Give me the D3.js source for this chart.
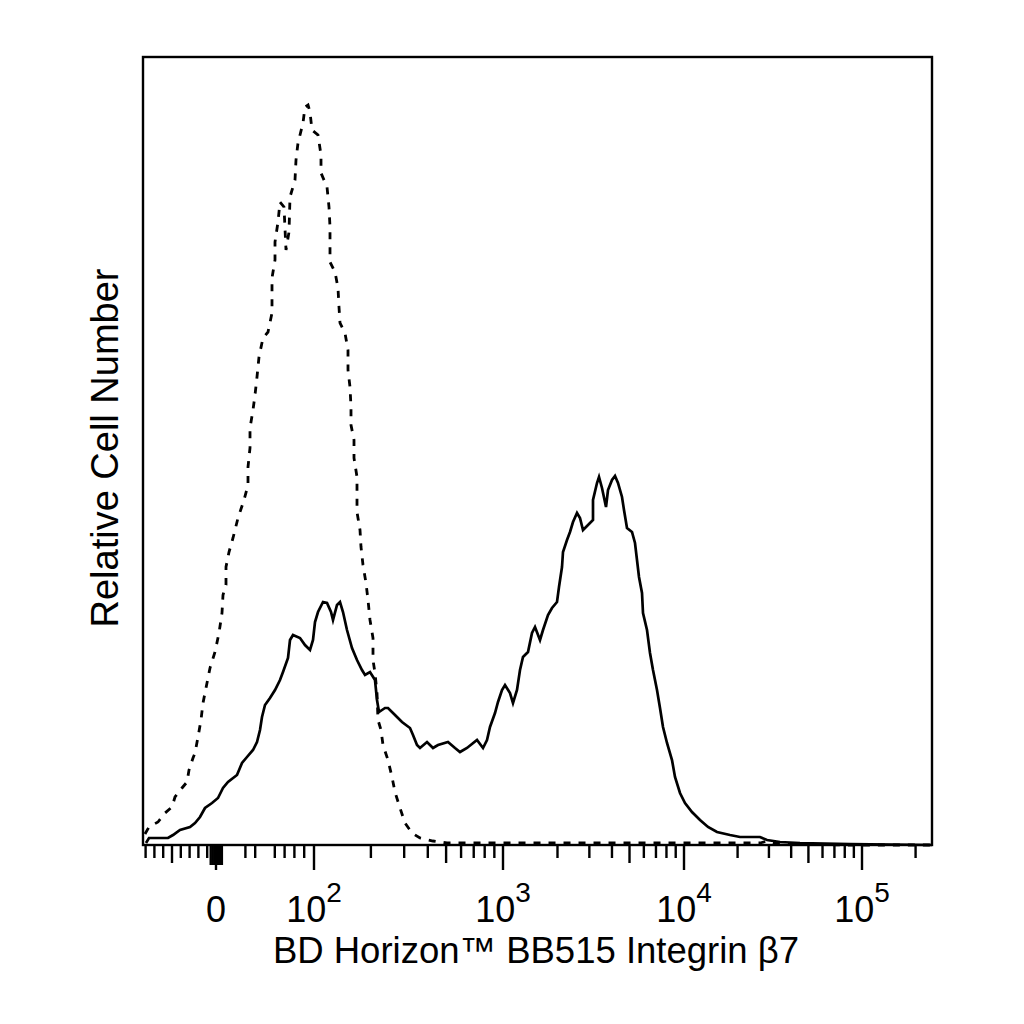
<!DOCTYPE html>
<html><head><meta charset="utf-8">
<script src="https://cdn.jsdelivr.net/npm/d3@7"></script>
<style>body{margin:0;background:#fff}text{font-family:"Liberation Sans",Arial,sans-serif;fill:#000}</style>
</head><body>
<svg id="chart" width="1024" height="1024"></svg>
<script>
// Histogram series: [display channel, cell count]
const isotypeSeries = [[2,11],[6,18],[15,23],[22,32],[29,38],[32,48],[39,57],[44,63],[46,75],[50,87],[52,92],[55,108],[58,125],[60,142],[64,162],[67,177],[72,193],[76,212],[79,232],[80,250],[83,260],[83,278],[86,293],[90,307],[95,327],[101,345],[105,360],[105,378],[107,397],[107,417],[110,435],[112,450],[114,468],[116,488],[120,507],[125,513],[129,532],[129,548],[129,567],[132,585],[132,603],[135,623],[137,643],[141,638],[143,595],[146,613],[147,648],[152,665],[153,685],[155,702],[160,722],[162,738],[165,740],[167,733],[169,715],[175,710],[178,690],[178,672],[184,658],[186,638],[187,618],[187,583],[192,573],[195,557],[196,538],[197,522],[202,512],[205,495],[205,475],[207,458],[208,438],[208,420],[211,405],[211,387],[214,368],[214,333],[217,315],[218,298],[220,280],[223,262],[225,245],[227,225],[230,207],[230,185],[232,172],[234,152],[235,125],[238,115],[240,100],[245,85],[249,68],[252,53],[257,37],[262,22],[269,12],[277,7],[290,4],[304,2],[350,2],[400,2],[450,2],[500,2],[550,2],[600,2],[617,2],[624,4],[630,2],[650,1],[700,0],[789,0]];
const stainedSeries = [[3,2],[6,7],[25,7],[30,10],[37,15],[47,18],[52,22],[57,28],[62,37],[69,42],[75,47],[80,57],[85,63],[94,70],[99,82],[104,88],[110,95],[114,103],[117,115],[119,128],[122,140],[127,147],[132,155],[137,165],[140,173],[145,187],[147,205],[150,210],[157,207],[162,200],[167,195],[170,205],[172,223],[175,233],[180,243],[184,242],[188,233],[190,225],[194,240],[197,243],[200,233],[204,215],[209,197],[214,185],[219,175],[222,170],[227,173],[232,165],[234,145],[236,133],[242,137],[245,137],[252,130],[259,123],[267,117],[270,110],[274,100],[277,97],[284,103],[290,97],[295,100],[305,103],[312,97],[317,93],[324,97],[334,105],[340,97],[344,105],[347,118],[352,132],[355,143],[359,155],[362,160],[367,152],[370,142],[374,155],[377,175],[380,188],[385,193],[389,212],[392,218],[397,205],[400,215],[405,230],[409,237],[414,243],[416,258],[419,278],[420,293],[424,305],[427,313],[430,323],[434,332],[437,327],[440,315],[445,320],[450,325],[450,345],[454,362],[456,368],[459,357],[463,338],[465,355],[469,365],[472,369],[475,362],[479,348],[481,335],[484,317],[489,313],[492,302],[494,285],[496,268],[499,252],[500,232],[504,215],[507,192],[510,175],[514,155],[517,137],[520,118],[524,102],[529,85],[532,68],[537,52],[542,42],[549,33],[557,25],[565,18],[574,13],[587,10],[597,8],[617,8],[624,5],[637,3],[657,2],[707,1],[789,0]];

// Axis tick values (fluorescence intensity)
const majorTickValues = [0, 100, 1000, 10000, 100000];
const majorTickLabels = [["0",""],["10","2"],["10","3"],["10","4"],["10","5"]];
const midTickValues = [-50, 500, 5000, 50000];
const nearZeroTickValues = [-6, -4, -2, 2, 4, 6];
const minorTickValues = [-80,-70,-60,-40,-30,-20,-10,30,40,60,70,80,90,
  200,300,400,600,700,800,900,2000,3000,4000,6000,7000,8000,9000,
  20000,30000,40000,60000,70000,80000,90000,200000];
const xTitle = "BD Horizon™ BB515 Integrin β7";
const yTitle = "Relative Cell Number";

const L = 143, R = 932, T = 57, B = 845;
const svg = d3.select("#chart");

// display channel -> pixel
const x = d3.scaleLinear().domain([0, 789]).range([L, R]);
const y = d3.scaleLinear().domain([0, 788]).range([B, T]);

// biexponential-style display transform: intensity -> display channel
const logPart = d3.scaleLog().domain([100, 1000, 10000, 100000]).range([171, 360, 541, 719]);
const linPos = d3.scaleLinear().domain([0, 100]).range([73, 171]);
const linNeg = d3.scaleLinear().domain([-100, 0]).range([-15, 73]);
function toChannel(v) { return v >= 100 ? logPart(v) : (v >= 0 ? linPos(v) : linNeg(v)); }

const line = d3.line().x(d => x(d[0])).y(d => y(d[1])).curve(d3.curveLinear);

const g = svg.append("g");
g.append("path").datum(isotypeSeries).attr("d", line)
  .attr("fill", "none").attr("stroke", "#000").attr("stroke-width", 2.8)
  .attr("stroke-dasharray", "7,8");
g.append("path").datum(stainedSeries).attr("d", line)
  .attr("fill", "none").attr("stroke", "#000").attr("stroke-width", 2.7);

// frame
svg.append("rect").attr("x", L).attr("y", T).attr("width", R - L).attr("height", B - T)
  .attr("fill", "none").attr("stroke", "#000").attr("stroke-width", 2.4);

// ticks
function ticks(vals, len) {
  svg.append("g").selectAll("line").data(vals).join("line")
    .attr("x1", d => x(toChannel(d))).attr("x2", d => x(toChannel(d)))
    .attr("y1", B).attr("y2", B + len)
    .attr("stroke", "#000").attr("stroke-width", 2.4);
}
ticks(minorTickValues, 13);
ticks(midTickValues, 18);
ticks(nearZeroTickValues, 20);
ticks(majorTickValues, 25);

// tick labels
const lab = svg.append("g").selectAll("text").data(majorTickValues).join("text")
  .attr("x", d => x(toChannel(d))).attr("y", 922)
  .attr("text-anchor", "middle").style("font-size", "36px");
lab.append("tspan").text((d, i) => majorTickLabels[i][0]);
lab.append("tspan").attr("dy", -20).style("font-size", "28px").text((d, i) => majorTickLabels[i][1]);

// titles
svg.append("text").attr("x", 536).attr("y", 963).attr("text-anchor", "middle")
  .style("font-size", "36.5px").text(xTitle);
svg.append("text").attr("transform", "translate(118,448) rotate(-90)")
  .attr("text-anchor", "middle").style("font-size", "38px").text(yTitle);
</script>
</body></html>
